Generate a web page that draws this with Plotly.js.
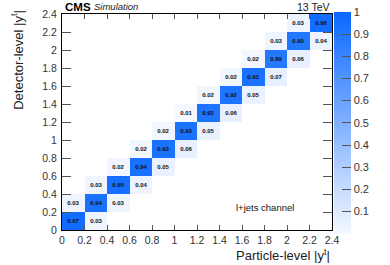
<!DOCTYPE html>
<html>
<head>
<meta charset="utf-8">
<script src="https://cdn.plot.ly/plotly-3.0.1.min.js"></script>
<style>html,body{margin:0;padding:0;background:#fff;}#chart{width:390px;height:265px;}</style>
</head>
<body>
<div id="chart"></div>
<script>
// Bin edges (|y_t|), shared by particle level (x) and detector level (y)
var binEdges = [0, 0.2, 0.4, 0.6, 0.8, 1.0, 1.2, 1.4, 1.6, 1.8, 2.0, 2.2, 2.4];
var tickLabels = ["0", "0.2", "0.4", "0.6", "0.8", "1", "1.2", "1.4", "1.6", "1.8", "2", "2.2", "2.4"];
// Migration matrix, per particle-level column i
var diagonal = [0.97, 0.94, 0.95, 0.94, 0.93, 0.93, 0.92, 0.92, 0.93, 0.89, 0.90, 0.96]; // detector bin i
var belowDiag = [null, 0.03, 0.03, 0.04, 0.05, 0.06, 0.05, 0.06, 0.05, 0.07, 0.06, 0.04]; // detector bin i-1
var aboveDiag = [0.03, 0.03, 0.02, 0.02, 0.02, 0.01, 0.02, 0.02, 0.02, 0.03, 0.03, null]; // detector bin i+1
var cbTicks = [0.1, 0.2, 0.3, 0.4, 0.5, 0.6, 0.7, 0.8, 0.9, 1];
var cbLabels = ["0.1", "0.2", "0.3", "0.4", "0.5", "0.6", "0.7", "0.8", "0.9", "1"];

var n = diagonal.length;
var z = [], txt = [];
for (var j = 0; j < n; j++) { z.push([]); txt.push([]); for (var i = 0; i < n; i++) { z[j].push(null); txt[j].push(""); } }
function put(i, j, v) { if (v === null || j < 0 || j >= n) return; z[j][i] = v; txt[j][i] = v.toFixed(2); }
for (var i = 0; i < n; i++) {
  put(i, i, diagonal[i]);
  put(i, i - 1, belowDiag[i]);
  put(i, i + 1, aboveDiag[i]);
}

var FONT = "Liberation Sans, Arial, Helvetica, sans-serif";
var trace = {
  type: "heatmap",
  x: binEdges, y: binEdges, z: z,
  text: txt, texttemplate: "%{text}",
  textfont: {family: FONT, size: 6, color: "#111", weight: "bold"},
  zmin: 0, zmax: 1,
  colorscale: [[0, "rgb(246,249,255)"], [1, "rgb(10,104,255)"]],
  hoverinfo: "skip",
  colorbar: {
    x: 1.007, xanchor: "left", xpad: 0,
    y: 1.01, yanchor: "top", ypad: 0,
    len: 222, lenmode: "pixels",
    thickness: 17, outlinewidth: 0,
    ticks: "inside", ticklen: 9, tickcolor: "#555", tickwidth: 1,
    tickvals: cbTicks, ticktext: cbLabels,
    tickfont: {family: FONT, size: 11, color: "#333"}
  }
};

var axisCommon = {
  range: [0, 2.4], tickvals: binEdges, ticktext: tickLabels,
  ticks: "inside", tickcolor: "#555", tickwidth: 1,
  showline: true, linecolor: "#000", linewidth: 1, mirror: "ticks",
  showgrid: false, zeroline: false,
  tickfont: {family: FONT, size: 10.5, color: "#333"}
};
var xaxis = Object.assign({}, axisCommon, {ticklen: 5});
var yaxis = Object.assign({}, axisCommon, {ticklen: 9, ticklabelstandoff: 2});

var layout = {
  width: 390, height: 265,
  margin: {l: 62, r: 47, t: 14, b: 35},
  paper_bgcolor: "#fff", plot_bgcolor: "#fff",
  xaxis: xaxis, yaxis: yaxis,
  showlegend: false,
  annotations: [
    {text: "Particle-level |y<sup>t</sup>|", xref: "paper", yref: "paper", x: 1, y: -0.117, xanchor: "right", yanchor: "middle", showarrow: false, font: {family: FONT, size: 13, color: "#222"}},
    {text: "Detector-level |y<sup>t</sup>|", xref: "paper", yref: "paper", x: -0.165, y: 0.79, xanchor: "center", yanchor: "middle", textangle: -90, showarrow: false, font: {family: FONT, size: 13, color: "#222"}},
    {text: "<b>CMS</b>", xref: "paper", yref: "paper", x: 0.003, y: 1.033, xanchor: "left", yanchor: "middle", showarrow: false, font: {family: FONT, size: 11.5, color: "#000"}},
    {text: "<i>Simulation</i>", xref: "paper", yref: "paper", x: 0.11, y: 1.033, xanchor: "left", yanchor: "middle", showarrow: false, font: {family: FONT, size: 9.5, color: "#222"}},
    {text: "13 TeV", xref: "paper", yref: "paper", x: 1, y: 1.033, xanchor: "right", yanchor: "middle", showarrow: false, font: {family: FONT, size: 10.5, color: "#222"}},
    {text: "l+jets channel", xref: "paper", yref: "paper", x: 0.865, y: 0.102, xanchor: "right", yanchor: "middle", showarrow: false, font: {family: FONT, size: 9.5, color: "#111"}}
  ]
};

Plotly.newPlot("chart", [trace], layout, {displayModeBar: false, staticPlot: true});
</script>
</body>
</html>
